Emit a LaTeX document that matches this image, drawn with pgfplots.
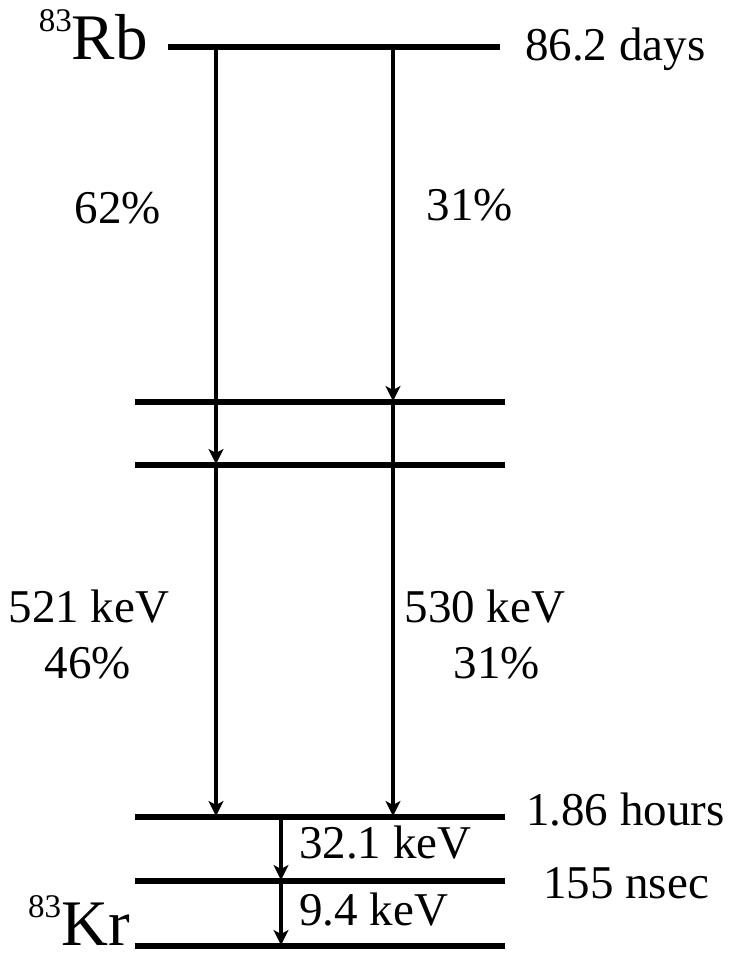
\documentclass[border=0pt]{standalone}
\usepackage{pgfplots}
\pgfplotsset{compat=1.18}
\usepackage{fontspec}
\setmainfont{Liberation Serif}
\usetikzlibrary{arrows.meta}
\newcommand{\lab}{\fontsize{47bp}{50bp}\selectfont}
\newcommand{\bigel}{\fontsize{65bp}{65bp}\selectfont}
\newcommand{\supnum}[1]{\raisebox{28bp}{\fontsize{33bp}{33bp}\selectfont #1}}
\begin{document}
\begin{tikzpicture}
\begin{axis}[width=729bp,height=955bp,scale only axis,
  xmin=0,xmax=729,ymin=0,ymax=955,y dir=reverse,
  axis lines=none,clip=false]
\path[draw=none] (rel axis cs:0,0) rectangle (rel axis cs:1,1);
% energy levels
\addplot[black,line width=6.5bp,mark=none] coordinates {(168,47) (500,47)};
\addplot[black,line width=6.5bp,mark=none] coordinates {(135,402) (505,402)};
\addplot[black,line width=6.5bp,mark=none] coordinates {(135,465) (505,465)};
\addplot[black,line width=6.5bp,mark=none] coordinates {(135,817) (505,817)};
\addplot[black,line width=6.5bp,mark=none] coordinates {(135,881) (505,881)};
\addplot[black,line width=6.5bp,mark=none] coordinates {(135,946) (505,946)};
% transitions
\addplot[black,line width=4.2bp,mark=none,-{Stealth[length=15bp,width=15bp,inset=4bp]}] coordinates {(216,47) (216,464)};
\addplot[black,line width=4.2bp,mark=none,-{Stealth[length=15bp,width=15bp,inset=4bp]}] coordinates {(393,47) (393,401)};
\addplot[black,line width=4.2bp,mark=none,-{Stealth[length=15bp,width=15bp,inset=4bp]}] coordinates {(216,465) (216,816)};
\addplot[black,line width=4.2bp,mark=none,-{Stealth[length=15bp,width=15bp,inset=4bp]}] coordinates {(393,402) (393,816)};
\addplot[black,line width=4.2bp,mark=none,-{Stealth[length=15bp,width=15bp,inset=4bp]}] coordinates {(281,817) (281,880)};
\addplot[black,line width=4.2bp,mark=none,-{Stealth[length=15bp,width=15bp,inset=4bp]}] coordinates {(281,881) (281,945)};
% labels
\node[anchor=base east,inner sep=0] at (axis cs:148,60) {\supnum{83}\bigel Rb};
\node[anchor=base east,inner sep=0] at (axis cs:130,945) {\supnum{83}\bigel Kr};
\node[anchor=base west,inner sep=0] at (axis cs:525,61) {\lab 86.2 days};
\node[anchor=base,inner sep=0] at (axis cs:118,223) {\lab 62\%};
\node[anchor=base,inner sep=0] at (axis cs:470,220) {\lab 31\%};
\node[anchor=base,inner sep=0] at (axis cs:89,622) {\lab 521 keV};
\node[anchor=base,inner sep=0] at (axis cs:88,678) {\lab 46\%};
\node[anchor=base,inner sep=0] at (axis cs:485,622) {\lab 530 keV};
\node[anchor=base,inner sep=0] at (axis cs:497,678) {\lab 31\%};
\node[anchor=base west,inner sep=0] at (axis cs:526,825) {\lab 1.86 hours};
\node[anchor=base west,inner sep=0] at (axis cs:299,858) {\lab 32.1 keV};
\node[anchor=base west,inner sep=0] at (axis cs:543,898) {\lab 155 nsec};
\node[anchor=base west,inner sep=0] at (axis cs:299,925) {\lab 9.4 keV};
\end{axis}
\end{tikzpicture}
\end{document}
